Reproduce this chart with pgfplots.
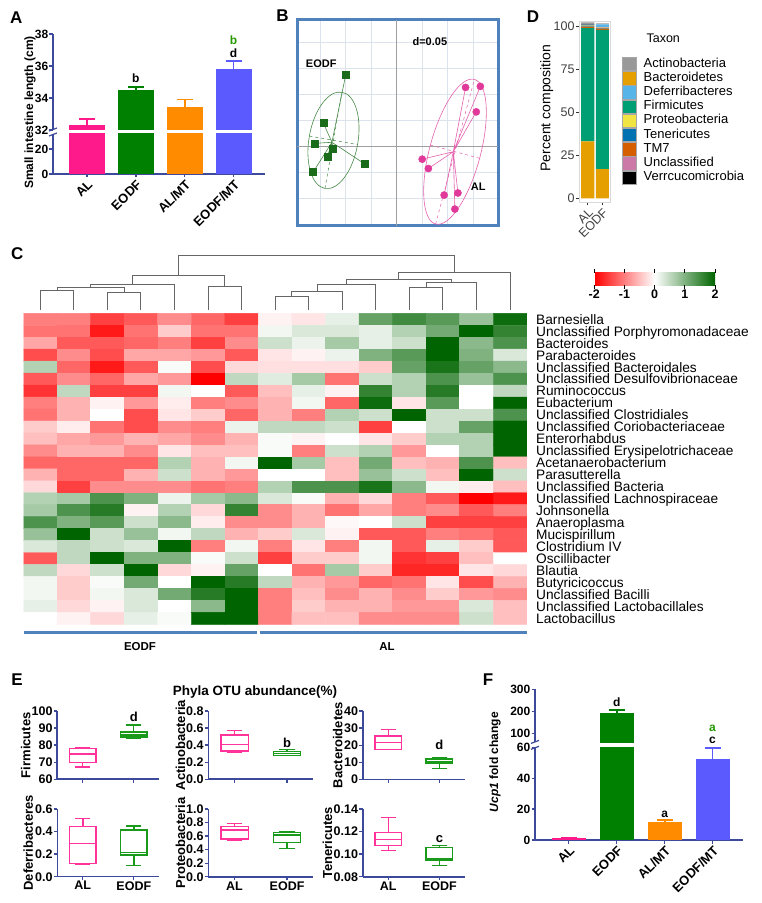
\documentclass[border=0pt]{standalone}
\usepackage{fontspec}
\setmainfont{Liberation Sans}
\usepackage{pgfplots}
\pgfplotsset{compat=1.18}
\usepgfplotslibrary{statistics}

\definecolor{gpaxis}{HTML}{3D4A9C}
\definecolor{cAL}{HTML}{FF1A8C}
\definecolor{cEODF}{HTML}{008000}
\definecolor{cALMT}{HTML}{FF8C00}
\definecolor{cEMT}{HTML}{5A5AFF}
\definecolor{bxpink}{HTML}{FF3399}
\definecolor{bxgreen}{HTML}{1A9A1A}
\definecolor{pcgreen}{HTML}{1A6B1A}
\definecolor{pcpink}{HTML}{E0399A}
\definecolor{frameblue}{HTML}{4F81BD}
\definecolor{gridc}{HTML}{DCE3EC}
\definecolor{tActino}{HTML}{999999}
\definecolor{tBact}{HTML}{E69F00}
\definecolor{tDef}{HTML}{56B4E9}
\definecolor{tFirm}{HTML}{009E73}
\definecolor{tProt}{HTML}{F0E442}
\definecolor{tTen}{HTML}{0072B2}
\definecolor{tTM}{HTML}{D55E00}
\definecolor{tUnc}{HTML}{CC79A7}
\definecolor{tVerr}{HTML}{000000}

\newcommand{\fs}[1]{\fontsize{#1}{#1}\selectfont}

\pgfplotsset{
  /pgf/number format/assume math mode=true,
  colormap={rwg}{rgb255=(255,0,0) rgb255=(255,255,255) rgb255=(0,100,0)},
  gp/.style={scale only axis, anchor=south west,
    axis x line*=bottom, axis y line*=left,
    axis line style={gpaxis, line width=1.6pt},
    tick style={gpaxis, line width=1.3pt},
    major tick length=3.5pt, tick align=outside, scaled ticks=false,
    tick label style={font=\bfseries\fs{12}, inner sep=1pt}},
  gpbar/.style={gp, ybar=0pt, bar shift=0pt},
  gperr/.style={error bars/.cd, y dir=plus, y explicit,
    error bar style={#1, line width=1.8pt},
    error mark options={#1, line width=1.8pt, mark size=8pt, rotate=90}},
  ebox/.style={gp, xmin=0.5, xmax=2.5, xtick={1,2},
    tick label style={font=\bfseries\fs{12.5}, inner sep=1pt},
    ylabel style={font=\bfseries\fs{13}, anchor=center}},
  bx/.style={line width=1.4pt, solid, mark=none},
  dg/.style={gray!80!black, line width=0.9pt, solid, mark=none},
  taxkey/.style={legend image code/.code={\draw[fill=#1, draw=gray!70, line width=0.8pt] (0pt,-6.7pt) rectangle (14pt,6.7pt);}},
}

\begin{document}
\begin{tikzpicture}[x=1pt,y=1pt]
\useasboundingbox (0,0) rectangle (762,903);
\fill[white] (0,0) rectangle (762,903);

% panel letters
\node[font=\bfseries\fs{17}] at (16.3,885.8) {A};
\node[font=\bfseries\fs{17}] at (282.5,887.2) {B};
\node[font=\bfseries\fs{17}] at (17.2,649.3) {C};
\node[font=\bfseries\fs{17}] at (533,886.8) {D};
\node[font=\bfseries\fs{17}] at (17,223) {E};
\node[font=\bfseries\fs{17}] at (488,223) {F};

% ================= A =================
\begin{axis}[gpbar, at={(53pt,729pt)}, width=212pt, height=40pt,
  xmin=0.303, xmax=4.645, ymin=0, ymax=32, ytick={0,20}, bar width=35pt,
  xtick={1,2,3,4}, xticklabels={AL,EODF,AL/MT,EODF/MT},
  xticklabel style={rotate=45, anchor=north east, font=\bfseries\fs{13}}]
\addplot[fill=cAL, draw=cAL] coordinates {(1,32.3)};
\addplot[fill=cEODF, draw=cEODF] coordinates {(2,34.5)};
\addplot[fill=cALMT, draw=cALMT] coordinates {(3,33.4)};
\addplot[fill=cEMT, draw=cEMT] coordinates {(4,35.8)};
\end{axis}
\begin{axis}[gpbar, axis x line=none, at={(53pt,773pt)}, width=212pt, height=96pt,
  xmin=0.303, xmax=4.645, ymin=32, ymax=38, ytick={32,34,36,38}, bar width=35pt]
\addplot[fill=cAL, draw=cAL, gperr=cAL] coordinates {(1,32.3) +- (0,0.4)};
\addplot[fill=cEODF, draw=cEODF, gperr=cEODF] coordinates {(2,34.5) +- (0,0.2)};
\addplot[fill=cALMT, draw=cALMT, gperr=cALMT] coordinates {(3,33.4) +- (0,0.5)};
\addplot[fill=cEMT, draw=cEMT, gperr=cEMT] coordinates {(4,35.8) +- (0,0.5)};
\node[font=\bfseries\fs{12}] at (axis cs:2,35.25) {b};
\node[font=\bfseries\fs{12}] at (axis cs:4,36.8) {d};
\node[font=\bfseries\fs{12}, text=cEODF!80!lime] at (axis cs:4,37.6) {b};
\end{axis}
\draw[gpaxis, line width=1.2pt] (49,772) -- (57,775);
\draw[gpaxis, line width=1.2pt] (49,767) -- (57,770);
\node[font=\bfseries\fs{12}, rotate=90] at (30,790.5) {Small intestine length (cm)};

% ================= B =================
\begin{axis}[scale only axis, anchor=south west, at={(297pt,677pt)}, width=201pt, height=206pt,
  xmin=-0.1955, xmax=0.1986, ymin=-0.1525, ymax=0.2437,
  xtick={-0.15,-0.1,-0.05,0.05,0.1,0.15}, ytick={-0.15,-0.1,-0.05,0.05,0.1,0.15,0.2},
  xticklabels={}, yticklabels={}, major tick length=0pt,
  grid=major, grid style={gridc, line width=0.8pt},
  extra x ticks={0}, extra y ticks={0}, extra x tick labels={}, extra y tick labels={},
  extra tick style={grid style={gray!75, line width=0.8pt}},
  axis line style={frameblue, line width=3pt}]
\addplot[pcgreen!80, line width=0.6pt] coordinates {(-0.127,0.0085) (-0.100,0.138) (-0.127,0.0085) (-0.144,0.046) (-0.127,0.0085) (-0.160,0.0065) (-0.127,0.0085) (-0.126,-0.0044) (-0.127,0.0085) (-0.136,-0.019) (-0.127,0.0085) (-0.063,-0.033) (-0.127,0.0085) (-0.164,-0.049)};
\draw[pcgreen!80, line width=0.6pt, rotate around={-10:(axis cs:-0.124,0.0123)}] (axis cs:-0.124,0.0123) ellipse [x radius=0.048, y radius=0.094];
\draw[pcgreen!80, line width=0.5pt, dashed, rotate around={-10:(axis cs:-0.124,0.0123)}] (axis cs:-0.124,-0.0817) -- (axis cs:-0.124,0.1063) (axis cs:-0.172,0.0123) -- (axis cs:-0.076,0.0123);
\addplot[only marks, mark=square*, mark size=3.5pt, pcgreen] coordinates {(-0.100,0.138) (-0.144,0.046) (-0.160,0.0065) (-0.126,-0.0044) (-0.136,-0.019) (-0.063,-0.033) (-0.164,-0.049)};
\addplot[pcpink!80, line width=0.6pt] coordinates {(0.111,-0.0096) (0.135,0.114) (0.111,-0.0096) (0.164,0.116) (0.111,-0.0096) (0.156,0.067) (0.111,-0.0096) (0.050,-0.024) (0.111,-0.0096) (0.062,-0.042) (0.111,-0.0096) (0.093,-0.093) (0.111,-0.0096) (0.120,-0.089) (0.111,-0.0096) (0.114,-0.120)};
\draw[pcpink!80, line width=0.6pt, rotate around={-15:(axis cs:0.1143,-0.0096)}] (axis cs:0.1143,-0.0096) ellipse [x radius=0.05, y radius=0.144];
\draw[pcpink!80, line width=0.5pt, dashed, rotate around={-15:(axis cs:0.1143,-0.0096)}] (axis cs:0.1143,-0.1536) -- (axis cs:0.1143,0.1344) (axis cs:0.0643,-0.0096) -- (axis cs:0.1643,-0.0096);
\addplot[only marks, mark=*, mark size=3.6pt, pcpink] coordinates {(0.135,0.114) (0.164,0.116) (0.156,0.067) (0.050,-0.024) (0.062,-0.042) (0.093,-0.093) (0.120,-0.089) (0.114,-0.120)};
\node[font=\bfseries\fs{11}] at (axis cs:-0.148,0.159) {EODF};
\node[font=\bfseries\fs{11}] at (axis cs:0.160,-0.077) {AL};
\node[font=\bfseries\fs{11}] at (axis cs:0.065,0.202) {d=0.05};
\end{axis}

% ================= D =================
\begin{axis}[scale only axis, anchor=south west, at={(579.3pt,700.7pt)}, width=31.4pt, height=180.6pt,
  ybar stacked, bar width=13.1pt, xmin=0.425, xmax=2.575, ymin=-2.3, ymax=102.5,
  xtick={1,2}, xticklabels={AL,EODF}, ytick={0,25,50,75,100},
  xticklabel style={rotate=45, anchor=north east},
  axis line style={gray!30, line width=1.2pt},
  tick style={gray!40!black, line width=0.6pt}, major tick length=3pt, tick align=outside,
  xtick pos=left, ytick pos=left,
  tick label style={font=\fs{12.5}, text=black!75, inner sep=1.5pt},
  legend style={at={(1.35,0.806)}, anchor=north west, draw=none, fill=none, inner sep=0pt, row sep=0pt,
    font=\fs{13}, nodes={inner sep=0pt, text height=9.8pt, text depth=3.75pt},
    /tikz/every odd column/.append style={column sep=7pt}},
  legend cell align=left]
\addplot[fill=tBact, draw=none, forget plot] coordinates {(1,33) (2,17)};
\addplot[fill=tFirm, draw=none, forget plot] coordinates {(1,65.8) (2,80.7)};
\addplot[fill=tTM, draw=none, forget plot] coordinates {(1,0.8) (2,0.8)};
\addplot[fill=tTen, draw=none, forget plot] coordinates {(1,0.6) (2,0.3)};
\addplot[fill=tProt, draw=none, forget plot] coordinates {(1,0.3) (2,0.3)};
\addplot[fill=tUnc, draw=none, forget plot] coordinates {(1,0.2) (2,0.2)};
\addplot[fill=tVerr, draw=none, forget plot] coordinates {(1,0.1) (2,0.1)};
\addplot[fill=tDef, draw=none, forget plot] coordinates {(1,0.3) (2,1.5)};
\addplot[fill=tActino, draw=none, forget plot] coordinates {(1,1.0) (2,0.6)};
\addlegendimage{taxkey=tActino}\addlegendentry{Actinobacteria}
\addlegendimage{taxkey=tBact}\addlegendentry{Bacteroidetes}
\addlegendimage{taxkey=tDef}\addlegendentry{Deferribacteres}
\addlegendimage{taxkey=tFirm}\addlegendentry{Firmicutes}
\addlegendimage{taxkey=tProt}\addlegendentry{Proteobacteria}
\addlegendimage{taxkey=tTen}\addlegendentry{Tenericutes}
\addlegendimage{taxkey=tTM}\addlegendentry{TM7}
\addlegendimage{taxkey=tUnc}\addlegendentry{Unclassified}
\addlegendimage{taxkey=tVerr}\addlegendentry{Verrcucomicrobia}
\end{axis}
\node[font=\fs{12.5}, anchor=west] at (643,864.7) {Taxon};
\node[font=\fs{14}, rotate=90] at (546.7,795) {Percent composition};

% ================= C =================
\begin{axis}[scale only axis, anchor=south west, at={(23.5pt,590pt)}, width=503.3pt, height=60pt,
  xmin=0.5, xmax=15.5, ymin=0, ymax=60, hide axis, clip=false]
\addplot[dg] coordinates {(1,3) (1,23) (2,23) (2,3)};
\addplot[dg] coordinates {(3,3) (3,21) (4,21) (4,3)};
\addplot[dg] coordinates {(1.5,23) (1.5,25.7) (3.5,25.7) (3.5,21)};
\addplot[dg] coordinates {(2.5,25.7) (2.5,28.7) (5,28.7) (5,3)};
\addplot[dg] coordinates {(6,3) (6,27) (7,27) (7,3)};
\addplot[dg] coordinates {(3.75,28.7) (3.75,38) (6.5,38) (6.5,27)};
\addplot[dg] coordinates {(8,3) (8,17) (9,17) (9,3)};
\addplot[dg] coordinates {(8.5,17) (8.5,21.7) (10,21.7) (10,3)};
\addplot[dg] coordinates {(9.25,21.7) (9.25,28.7) (11,28.7) (11,3)};
\addplot[dg] coordinates {(12,3) (12,25.5) (13,25.5) (13,3)};
\addplot[dg] coordinates {(12.5,25.5) (12.5,30.7) (14,30.7) (14,3)};
\addplot[dg] coordinates {(10.125,28.7) (10.125,33.3) (13.25,33.3) (13.25,30.7)};
\addplot[dg] coordinates {(11.6875,33.3) (11.6875,40.7) (15,40.7) (15,3)};
\addplot[dg] coordinates {(5.125,38) (5.125,58) (13.34375,58) (13.34375,40.7)};
\end{axis}

\begin{axis}[scale only axis, anchor=south west, at={(23.5pt,278.7pt)}, width=503.3pt, height=311pt,
  xmin=0.5, xmax=15.5, ymin=0.5, ymax=26.5, y dir=reverse,
  colormap name=rwg, point meta min=-2, point meta max=2,
  axis line style={draw=none}, xtick=\empty, ytick={1,...,26},
  yticklabels={Barnesiella, Unclassified Porphyromonadaceae, Bacteroides, Parabacteroides, Unclassified Bacteroidales, Unclassified Desulfovibrionaceae, Ruminococcus, Eubacterium, Unclassified Clostridiales, Unclassified Coriobacteriaceae, Enterorhabdus, Unclassified Erysipelotrichaceae, Acetanaerobacterium, Parasutterella, Unclassified Bacteria, Unclassified Lachnospiraceae, Johnsonella, Anaeroplasma, Mucispirillum, Clostridium IV, Oscillibacter, Blautia, Butyricicoccus, Unclassified Bacilli, Unclassified Lactobacillales, Lactobacillus},
  yticklabel pos=right, ytick style={draw=none}, major tick length=0pt,
  yticklabel style={font=\fs{13.7}, anchor=base west, inner sep=0pt, xshift=9.2pt, yshift=-4.9pt},
  colorbar horizontal,
  colorbar style={at={(parent axis.north east)}, anchor=south west, xshift=67.5pt, yshift=36.6pt,
    scale only axis, width=120.7pt, height=12.4pt,
    xtick={-2,-1,0,1,2}, xticklabel style={font=\bfseries\fs{12.5}, inner sep=1pt},
    axis line style={draw=none}, xtick style={black, line width=0.8pt},
    major tick length=3.5pt, tick align=outside}]
\addplot[matrix plot*, mesh/cols=15, point meta=explicit] table[row sep=\\, meta=c] {
x y c \\
1 1 -1.0 \\ 2 1 -1.0 \\ 3 1 -1.5 \\ 4 1 -1.3 \\ 5 1 -0.9 \\ 6 1 -1.2 \\ 7 1 -1.5 \\ 8 1 -0.1 \\ 9 1 -0.2 \\ 10 1 0.2 \\ 11 1 1.2 \\ 12 1 1.5 \\ 13 1 1.3 \\ 14 1 0.8 \\ 15 1 1.9 \\
1 2 -1.1 \\ 2 2 -1.1 \\ 3 2 -1.8 \\ 4 2 -1.1 \\ 5 2 -0.4 \\ 6 2 -1.1 \\ 7 2 -1.1 \\ 8 2 0.1 \\ 9 2 0.3 \\ 10 2 0.3 \\ 11 2 0.2 \\ 12 2 0.6 \\ 13 2 1.1 \\ 14 2 2.0 \\ 15 2 1.6 \\
1 3 -0.7 \\ 2 3 -1.3 \\ 3 3 -1.3 \\ 4 3 -1.2 \\ 5 3 -1.0 \\ 6 3 -1.5 \\ 7 3 -0.9 \\ 8 3 0.4 \\ 9 3 0.15 \\ 10 3 0.7 \\ 11 3 0.2 \\ 12 3 0.4 \\ 13 3 2.0 \\ 14 3 0.9 \\ 15 3 1.4 \\
1 4 -1.4 \\ 2 4 -0.9 \\ 3 4 -1.4 \\ 4 4 -0.7 \\ 5 4 -0.7 \\ 6 4 -0.8 \\ 7 4 -1.3 \\ 8 4 -0.2 \\ 9 4 -0.1 \\ 10 4 0.15 \\ 11 4 1.0 \\ 12 4 1.3 \\ 13 4 2.0 \\ 14 4 1.0 \\ 15 4 0.3 \\
1 5 0.6 \\ 2 5 -1.2 \\ 3 5 -1.8 \\ 4 5 -1.3 \\ 5 5 0.05 \\ 6 5 -1.4 \\ 7 5 -0.3 \\ 8 5 -0.25 \\ 9 5 -0.25 \\ 10 5 -0.25 \\ 11 5 -0.4 \\ 12 5 1.2 \\ 13 5 1.8 \\ 14 5 1.2 \\ 15 5 0.9 \\
1 6 -1.3 \\ 2 6 -0.9 \\ 3 6 -1.2 \\ 4 6 -0.7 \\ 5 6 -0.8 \\ 6 6 -2.0 \\ 7 6 0.5 \\ 8 6 0.25 \\ 9 6 0.7 \\ 10 6 -1.1 \\ 11 6 0.4 \\ 12 6 0.6 \\ 13 6 1.4 \\ 14 6 0.8 \\ 15 6 1.4 \\
1 7 -1.6 \\ 2 7 0.5 \\ 3 7 -1.5 \\ 4 7 -1.5 \\ 5 7 0.1 \\ 6 7 0.0 \\ 7 7 -1.3 \\ 8 7 -0.5 \\ 9 7 0.2 \\ 10 7 -0.1 \\ 11 7 1.6 \\ 12 7 0.6 \\ 13 7 1.7 \\ 14 7 0.0 \\ 15 7 0.5 \\
1 8 -1.0 \\ 2 8 -0.6 \\ 3 8 -0.1 \\ 4 8 -0.8 \\ 5 8 -0.15 \\ 6 8 -1.0 \\ 7 8 -0.9 \\ 8 8 -0.6 \\ 9 8 0.1 \\ 10 8 -1.2 \\ 11 8 1.9 \\ 12 8 -0.2 \\ 13 8 1.3 \\ 14 8 0.0 \\ 15 8 2.0 \\
1 9 -1.1 \\ 2 9 -0.6 \\ 3 9 0.0 \\ 4 9 -1.4 \\ 5 9 -0.2 \\ 6 9 -0.4 \\ 7 9 -1.2 \\ 8 9 -0.6 \\ 9 9 -1.0 \\ 10 9 0.6 \\ 11 9 0.4 \\ 12 9 2.0 \\ 13 9 0.4 \\ 14 9 0.4 \\ 15 9 1.4 \\
1 10 -0.4 \\ 2 10 -0.15 \\ 3 10 -1.1 \\ 4 10 -1.4 \\ 5 10 -0.9 \\ 6 10 -1.0 \\ 7 10 0.15 \\ 8 10 0.5 \\ 9 10 0.5 \\ 10 10 0.4 \\ 11 10 -1.5 \\ 12 10 0.0 \\ 13 10 0.4 \\ 14 10 1.2 \\ 15 10 2.0 \\
1 11 -0.5 \\ 2 11 -0.7 \\ 3 11 -0.8 \\ 4 11 -0.6 \\ 5 11 -0.7 \\ 6 11 -0.9 \\ 7 11 -0.6 \\ 8 11 0.05 \\ 9 11 -0.1 \\ 10 11 0.0 \\ 11 11 -0.2 \\ 12 11 -0.4 \\ 13 11 0.6 \\ 14 11 0.6 \\ 15 11 2.0 \\
1 12 -0.9 \\ 2 12 -0.6 \\ 3 12 -0.6 \\ 4 12 -0.9 \\ 5 12 -0.2 \\ 6 12 -0.5 \\ 7 12 -0.5 \\ 8 12 0.05 \\ 9 12 -1.0 \\ 10 12 0.4 \\ 11 12 0.6 \\ 12 12 -0.8 \\ 13 12 0.0 \\ 14 12 0.6 \\ 15 12 2.0 \\
1 13 -1.2 \\ 2 13 -1.2 \\ 3 13 -1.2 \\ 4 13 -1.2 \\ 5 13 0.6 \\ 6 13 -0.6 \\ 7 13 0.1 \\ 8 13 2.0 \\ 9 13 0.7 \\ 10 13 -0.5 \\ 11 13 1.1 \\ 12 13 -0.5 \\ 13 13 -0.6 \\ 14 13 1.4 \\ 15 13 -0.5 \\
1 14 -0.6 \\ 2 14 -1.2 \\ 3 14 -1.2 \\ 4 14 -0.6 \\ 5 14 0.4 \\ 6 14 -0.6 \\ 7 14 -0.8 \\ 8 14 0.0 \\ 9 14 0.0 \\ 10 14 -0.5 \\ 11 14 0.8 \\ 12 14 0.4 \\ 13 14 -0.5 \\ 14 14 2.0 \\ 15 14 0.4 \\
1 15 -0.3 \\ 2 15 -1.5 \\ 3 15 -0.9 \\ 4 15 -0.9 \\ 5 15 -0.9 \\ 6 15 -1.1 \\ 7 15 -1.0 \\ 8 15 0.6 \\ 9 15 1.4 \\ 10 15 1.4 \\ 11 15 1.8 \\ 12 15 0.9 \\ 13 15 0.1 \\ 14 15 -0.15 \\ 15 15 -0.5 \\
1 16 0.6 \\ 2 16 0.7 \\ 3 16 1.4 \\ 4 16 1.0 \\ 5 16 0.15 \\ 6 16 0.7 \\ 7 16 0.9 \\ 8 16 0.3 \\ 9 16 0.05 \\ 10 16 -0.6 \\ 11 16 -0.3 \\ 12 16 -1.0 \\ 13 16 -1.3 \\ 14 16 -2.0 \\ 15 16 -1.8 \\
1 17 0.7 \\ 2 17 1.4 \\ 3 17 1.7 \\ 4 17 -0.1 \\ 5 17 0.6 \\ 6 17 -0.3 \\ 7 17 1.6 \\ 8 17 -0.9 \\ 9 17 -0.6 \\ 10 17 -1.1 \\ 11 17 -0.7 \\ 12 17 -1.0 \\ 13 17 -0.9 \\ 14 17 -1.3 \\ 15 17 -1.0 \\
1 18 1.4 \\ 2 18 1.0 \\ 3 18 1.3 \\ 4 18 0.4 \\ 5 18 0.9 \\ 6 18 -0.15 \\ 7 18 -0.9 \\ 8 18 -0.9 \\ 9 18 -0.6 \\ 10 18 -0.05 \\ 11 18 0.0 \\ 12 18 0.4 \\ 13 18 -1.5 \\ 14 18 -1.5 \\ 15 18 -1.5 \\
1 19 0.8 \\ 2 19 2.0 \\ 3 19 0.4 \\ 4 19 0.8 \\ 5 19 0.1 \\ 6 19 0.5 \\ 7 19 -0.6 \\ 8 19 -0.4 \\ 9 19 0.3 \\ 10 19 -0.1 \\ 11 19 -1.3 \\ 12 19 -1.3 \\ 13 19 -1.0 \\ 14 19 -1.1 \\ 15 19 -1.3 \\
1 20 0.3 \\ 2 20 0.5 \\ 3 20 0.4 \\ 4 20 0.3 \\ 5 20 2.0 \\ 6 20 -1.0 \\ 7 20 0.1 \\ 8 20 -1.0 \\ 9 20 -0.2 \\ 10 20 -1.0 \\ 11 20 0.1 \\ 12 20 -1.3 \\ 13 20 0.2 \\ 14 20 -0.4 \\ 15 20 -1.3 \\
1 21 -1.3 \\ 2 21 0.5 \\ 3 21 2.0 \\ 4 21 1.0 \\ 5 21 1.0 \\ 6 21 0.05 \\ 7 21 0.4 \\ 8 21 -1.5 \\ 9 21 -0.4 \\ 10 21 -0.4 \\ 11 21 0.1 \\ 12 21 -1.6 \\ 13 21 -1.5 \\ 14 21 -0.5 \\ 15 21 0.0 \\
1 22 0.5 \\ 2 22 -0.3 \\ 3 22 0.4 \\ 4 22 2.0 \\ 5 22 -0.3 \\ 6 22 -0.1 \\ 7 22 1.2 \\ 8 22 0.0 \\ 9 22 -1.1 \\ 10 22 0.7 \\ 11 22 -0.4 \\ 12 22 -1.7 \\ 13 22 -1.7 \\ 14 22 -0.2 \\ 15 22 -0.3 \\
1 23 0.1 \\ 2 23 -0.4 \\ 3 23 0.05 \\ 4 23 1.1 \\ 5 23 0.0 \\ 6 23 2.0 \\ 7 23 1.7 \\ 8 23 0.5 \\ 9 23 -0.6 \\ 10 23 -0.8 \\ 11 23 -1.2 \\ 12 23 -1.1 \\ 13 23 -0.2 \\ 14 23 -1.4 \\ 15 23 -0.6 \\
1 24 0.1 \\ 2 24 -0.4 \\ 3 24 0.1 \\ 4 24 0.3 \\ 5 24 1.1 \\ 6 24 1.7 \\ 7 24 2.0 \\ 8 24 -1.0 \\ 9 24 -0.5 \\ 10 24 -0.9 \\ 11 24 -0.6 \\ 12 24 -0.9 \\ 13 24 -0.4 \\ 14 24 -0.8 \\ 15 24 -0.9 \\
1 25 0.2 \\ 2 25 -0.3 \\ 3 25 -0.1 \\ 4 25 0.3 \\ 5 25 0.0 \\ 6 25 0.9 \\ 7 25 2.0 \\ 8 25 -1.0 \\ 9 25 -0.4 \\ 10 25 -0.6 \\ 11 25 -0.6 \\ 12 25 -0.8 \\ 13 25 -0.8 \\ 14 25 0.3 \\ 15 25 -0.5 \\
1 26 0.0 \\ 2 26 -0.1 \\ 3 26 -0.3 \\ 4 26 0.2 \\ 5 26 0.05 \\ 6 26 2.0 \\ 7 26 2.0 \\ 8 26 -1.0 \\ 9 26 -0.5 \\ 10 26 -0.5 \\ 11 26 -0.9 \\ 12 26 -0.9 \\ 13 26 -0.9 \\ 14 26 0.4 \\ 15 26 -0.5 \\
};
\end{axis}
\draw[frameblue, line width=3pt] (23.5,270) -- (257.3,270);
\draw[frameblue, line width=3pt] (259.5,270) -- (526.8,270);
\node[font=\bfseries\fs{11.5}] at (140,256) {EODF};
\node[font=\bfseries\fs{11.5}] at (387,256) {AL};

% ================= E =================
\node[font=\bfseries\fs{13.5}] at (255,211) {Phyla OTU abundance(\%)};
\begin{axis}[ebox, at={(57.3pt,123.7pt)}, width=102pt, height=68.3pt,
  ymin=60, ymax=100, ytick={60,70,80,90,100}, xticklabels={,,},
  ylabel={Firmicutes}, ylabel style={at={(axis description cs:-0.31,0.5)}}]
\addplot[bxpink, bx, boxplot prepared={draw direction=y, draw position=1, lower whisker=67.2, lower quartile=70, median=74.8, upper quartile=78.1, upper whisker=78.3, box extend=0.52, whisker extend=0.3}] coordinates {};
\addplot[bxgreen, bx, boxplot prepared={draw direction=y, draw position=2, lower whisker=84.3, lower quartile=84.8, median=86.0, upper quartile=87.7, upper whisker=91.8, box extend=0.52, whisker extend=0.3}] coordinates {};
\node[font=\bfseries\fs{13}] at (axis cs:2,96.7) {d};
\end{axis}
\begin{axis}[ebox, at={(208.3pt,123.7pt)}, width=105pt, height=68.3pt,
  ymin=0, ymax=0.8, ytick={0,0.2,0.4,0.6,0.8}, xticklabels={,,},
  yticklabel style={/pgf/number format/fixed, /pgf/number format/fixed zerofill, /pgf/number format/precision=1},
  ylabel={Actinobacteria}, ylabel style={at={(axis description cs:-0.265,0.5)}}]
\addplot[bxpink, bx, boxplot prepared={draw direction=y, draw position=1, lower whisker=0.316, lower quartile=0.332, median=0.410, upper quartile=0.519, upper whisker=0.570, box extend=0.52, whisker extend=0.3}] coordinates {};
\addplot[bxgreen, bx, boxplot prepared={draw direction=y, draw position=2, lower whisker=0.277, lower quartile=0.281, median=0.300, upper quartile=0.324, upper whisker=0.351, box extend=0.52, whisker extend=0.3}] coordinates {};
\node[font=\bfseries\fs{13}] at (axis cs:2,0.429) {b};
\end{axis}
\begin{axis}[ebox, at={(362.7pt,123.7pt)}, width=102.3pt, height=68.3pt,
  ymin=0, ymax=40, ytick={0,10,20,30,40}, xticklabels={,,},
  ylabel={Bacteroidetes}, ylabel style={at={(axis description cs:-0.245,0.5)}}]
\addplot[bxpink, bx, boxplot prepared={draw direction=y, draw position=1, lower whisker=17.5, lower quartile=17.6, median=21.7, upper quartile=25.4, upper whisker=29.3, box extend=0.52, whisker extend=0.3}] coordinates {};
\addplot[bxgreen, bx, boxplot prepared={draw direction=y, draw position=2, lower whisker=6.2, lower quartile=9.4, median=10.1, upper quartile=11.9, upper whisker=12.9, box extend=0.52, whisker extend=0.3}] coordinates {};
\node[font=\bfseries\fs{13}] at (axis cs:2,20.1) {d};
\end{axis}

\begin{axis}[ebox, at={(57.3pt,26.3pt)}, width=102pt, height=67.7pt,
  ymin=0, ymax=0.6, ytick={0,0.2,0.4,0.6}, xticklabels={AL,EODF},
  yticklabel style={/pgf/number format/fixed, /pgf/number format/fixed zerofill, /pgf/number format/precision=1},
  ylabel={Deferribacteres}, ylabel style={at={(axis description cs:-0.285,0.5)}}]
\addplot[bxpink, bx, boxplot prepared={draw direction=y, draw position=1, lower whisker=0.112, lower quartile=0.118, median=0.296, upper quartile=0.443, upper whisker=0.517, box extend=0.52, whisker extend=0.3}] coordinates {};
\addplot[bxgreen, bx, boxplot prepared={draw direction=y, draw position=2, lower whisker=0.098, lower quartile=0.192, median=0.216, upper quartile=0.414, upper whisker=0.449, box extend=0.52, whisker extend=0.3}] coordinates {};
\end{axis}
\begin{axis}[ebox, at={(208.3pt,26.3pt)}, width=105pt, height=67.7pt,
  ymin=0, ymax=1.0, ytick={0,0.2,0.4,0.6,0.8,1.0}, xticklabels={AL,EODF},
  yticklabel style={/pgf/number format/fixed, /pgf/number format/fixed zerofill, /pgf/number format/precision=1},
  ylabel={Proteobacteria}, ylabel style={at={(axis description cs:-0.265,0.5)}}]
\addplot[bxpink, bx, boxplot prepared={draw direction=y, draw position=1, lower whisker=0.542, lower quartile=0.557, median=0.690, upper quartile=0.739, upper whisker=0.783, box extend=0.52, whisker extend=0.3}] coordinates {};
\addplot[bxgreen, bx, boxplot prepared={draw direction=y, draw position=2, lower whisker=0.419, lower quartile=0.507, median=0.616, upper quartile=0.655, upper whisker=0.660, box extend=0.52, whisker extend=0.3}] coordinates {};
\end{axis}
\begin{axis}[ebox, at={(362.7pt,26.3pt)}, width=102.3pt, height=67.7pt,
  ymin=0.08, ymax=0.14, ytick={0.08,0.10,0.12,0.14}, xticklabels={AL,EODF},
  yticklabel style={/pgf/number format/fixed, /pgf/number format/fixed zerofill, /pgf/number format/precision=2},
  ylabel={Tenericutes}, ylabel style={at={(axis description cs:-0.345,0.5)}}]
\addplot[bxpink, bx, boxplot prepared={draw direction=y, draw position=1, lower whisker=0.1031, lower quartile=0.1078, median=0.1131, upper quartile=0.1190, upper whisker=0.1323, box extend=0.52, whisker extend=0.3}] coordinates {};
\addplot[bxgreen, bx, boxplot prepared={draw direction=y, draw position=2, lower whisker=0.0898, lower quartile=0.0948, median=0.0963, upper quartile=0.1057, upper whisker=0.1075, box extend=0.52, whisker extend=0.3}] coordinates {};
\node[font=\bfseries\fs{13}] at (axis cs:2,0.1131) {c};
\end{axis}

% ================= F =================
\begin{axis}[gpbar, at={(535pt,63pt)}, width=208.3pt, height=92.7pt,
  xmin=0.294, xmax=4.643, ymin=0, ymax=60, ytick={0,20,40,60}, bar width=33pt,
  xtick={1,2,3,4}, xticklabels={AL,EODF,AL/MT,EODF/MT},
  xticklabel style={rotate=45, anchor=north east, font=\bfseries\fs{13}}]
\addplot[fill=cAL, draw=cAL, gperr=cAL] coordinates {(1,1.1) +- (0,0.3)};
\addplot[fill=cEODF, draw=cEODF] coordinates {(2,191)};
\addplot[fill=cALMT, draw=cALMT, gperr=cALMT] coordinates {(3,11.2) +- (0,1.5)};
\addplot[fill=cEMT, draw=cEMT, gperr=cEMT] coordinates {(4,52.2) +- (0,7.1)};
\node[font=\bfseries\fs{12}] at (axis cs:3,16.8) {a};
\end{axis}
\begin{axis}[gpbar, axis x line=none, at={(535pt,160.6pt)}, width=208.3pt, height=53.1pt,
  xmin=0.294, xmax=4.643, ymin=60, ymax=300, ytick={100,200,300}, bar width=33pt]
\addplot[fill=cEODF, draw=cEODF, gperr=cEODF] coordinates {(2,191) +- (0,14)};
\node[font=\bfseries\fs{12}] at (axis cs:2,239.4) {d};
\node[font=\bfseries\fs{12}, text=cEODF!80!lime] at (axis cs:4,123.5) {a};
\node[font=\bfseries\fs{12}] at (axis cs:4,70.6) {c};
\end{axis}
\draw[gpaxis, line width=1.2pt] (531,159.6) -- (539,162.6);
\draw[gpaxis, line width=1.2pt] (531,153.7) -- (539,156.7);
\node[font=\bfseries\fs{12}, rotate=90] at (495,141) {\textit{Ucp1} fold change};

\end{tikzpicture}
\end{document}
